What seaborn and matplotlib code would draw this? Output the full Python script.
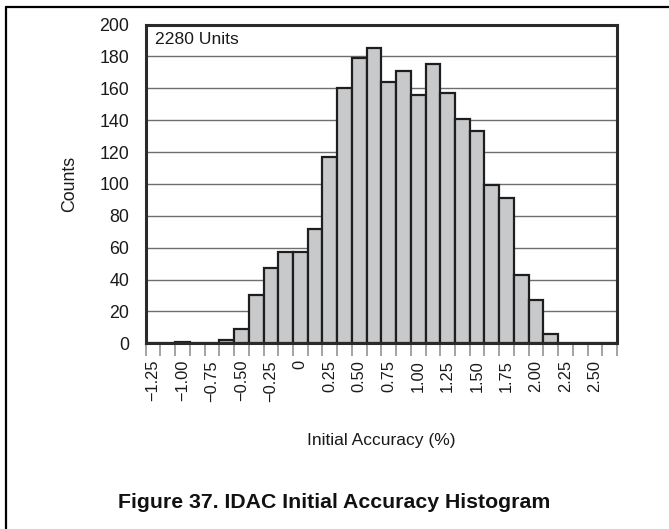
import numpy as np
import pandas as pd
import matplotlib
matplotlib.use("Agg")
import matplotlib.pyplot as plt
from matplotlib.lines import Line2D
import seaborn as sns

# Bin centres (%) and unit counts per 0.125 % bin
bin_centers = [-1.25 + 0.125 * i for i in range(32)]
counts = [0, 0, 1, 0, 0, 2, 9, 30, 47, 57, 57, 72, 117, 160, 179, 185,
          164, 171, 156, 175, 157, 141, 133, 99, 91, 43, 27, 6, 0, 0, 0, 0]
label_values = [-1.25, -1.00, -0.75, -0.50, -0.25, 0.0, 0.25, 0.50, 0.75,
                1.00, 1.25, 1.50, 1.75, 2.00, 2.25, 2.50]
y_ticks = [0, 20, 40, 60, 80, 100, 120, 140, 160, 180, 200]
units_note = "2280 Units"
x_title = "Initial Accuracy (%)"
y_title = "Counts"
fig_title = "Figure 37. IDAC Initial Accuracy Histogram"

df = pd.DataFrame({"accuracy": bin_centers, "count": counts})

sns.set_theme(style="white")
plt.rcParams["font.family"] = ["Liberation Sans", "DejaVu Sans"]

W, H = 669, 529
fig = plt.figure(figsize=(W / 100, H / 100), dpi=100)
ax = fig.add_axes([145.7 / W, 1 - 343.3 / H, (617 - 145.7) / W, (343.3 - 24.5) / H])

width = 0.125
edges = np.arange(len(bin_centers) + 1) * width + bin_centers[0] - width / 2
sns.histplot(data=df, x="accuracy", weights="count", binwidth=width,
             binrange=(float(edges[0]), float(edges[-1])), ax=ax,
             color="#c8c9cb", alpha=1.0, edgecolor="#1e1e1e", linewidth=1.6,
             zorder=3)

ax.set_xlim(edges[0], edges[-1])
ax.set_ylim(0, 200)

# horizontal grid
for v in y_ticks[1:-1]:
    ax.axhline(v, color="#6e6e6e", lw=1.0, zorder=1)

ax.set_yticks(y_ticks)
ax.set_yticklabels([str(v) for v in y_ticks], fontsize=12.8, color="#1a1a1a")
ax.tick_params(axis="y", length=0, pad=12)

def fmt(v):
    if v == 0:
        return "0"
    s = f"{abs(v):.2f}"
    return ("\u2212" + s) if v < 0 else s

ax.set_xticks(label_values)
ax.set_xticklabels([fmt(v) for v in label_values], rotation=90,
                   fontsize=11.8, color="#1a1a1a")
ax.set_xticks(edges, minor=True)
ax.tick_params(axis="x", which="major", length=0, pad=12)
ax.tick_params(axis="x", which="minor", length=9, width=1.1,
               color="#8a8a8a", direction="out", bottom=True)

for s in ax.spines.values():
    s.set_color("#2a2a2a")
    s.set_linewidth(2.2)
    s.set_zorder(5)

ax.set_xlabel("")
ax.set_ylabel("")
ax.text(0.02, 0.975, units_note, transform=ax.transAxes, ha="left", va="top",
        fontsize=12.6, color="#1a1a1a", zorder=6)

fig.text(70 / W, 1 - 184 / H, y_title, rotation=90, ha="center", va="center",
         fontsize=12.8, color="#1a1a1a")
fig.text(381 / W, 1 - 441 / H, x_title, ha="center", va="center",
         fontsize=12.5, color="#1a1a1a")
fig.text(334 / W, 1 - 502 / H, fig_title, ha="center", va="center",
         fontsize=15.3, fontweight="bold", color="#111111")

# page frame: top rule and left rule
fig.add_artist(Line2D([5.5 / W, 1.0], [1 - 7.3 / H, 1 - 7.3 / H],
                      transform=fig.transFigure, color="black", lw=1.6))
fig.add_artist(Line2D([6.3 / W, 6.3 / W], [0.0, 1 - 7.3 / H],
                      transform=fig.transFigure, color="black", lw=1.6))

fig.savefig("out.png", dpi=100)
